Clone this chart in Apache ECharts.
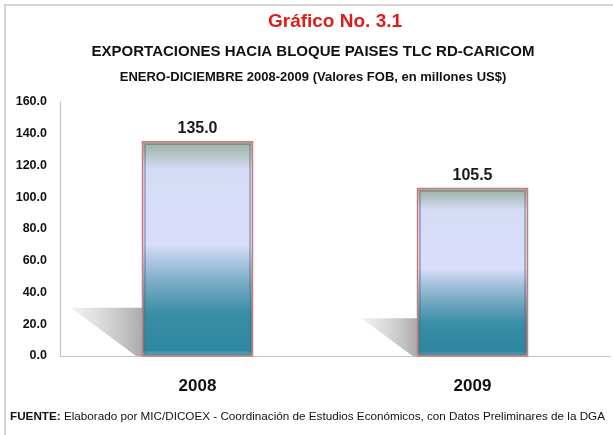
<!DOCTYPE html>
<html>
<head>
<meta charset="utf-8">
<script src="https://cdn.jsdelivr.net/npm/echarts@6/dist/echarts.min.js"></script>
<style>
  html, body { margin: 0; padding: 0; background: #fff; }
  #chart { width: 613px; height: 435px; }
</style>
</head>
<body>
<div id="chart"></div>
<script>
const years = ['2008', '2009'];
const exportValues = [135.0, 105.5];

const FONT = '"Liberation Sans", Arial, sans-serif';

const chart = echarts.init(document.getElementById('chart'));

const barFill = new echarts.graphic.LinearGradient(0, 0, 0, 1, [
    { offset: 0, color: '#9cb2a4' },
    { offset: 0.04, color: '#a9bcb6' },
    { offset: 0.13, color: '#d6dbf6' },
    { offset: 0.48, color: '#d9ddf9' },
    { offset: 0.53, color: '#bccde9' },
    { offset: 0.66, color: '#78abc5' },
    { offset: 0.8, color: '#3a8ea6' },
    { offset: 0.97, color: '#2e86a0' },
    { offset: 1, color: '#6fc2d6' }
]);

const shadowFill = new echarts.graphic.LinearGradient(1, 0, 0, 0, [
    { offset: 0, color: 'rgba(165,165,165,0.95)' },
    { offset: 1, color: 'rgba(215,215,215,0.35)' }
]);

function renderBar(params, api) {
    const top = api.coord([api.value(0), api.value(1)]);
    const base = api.coord([api.value(0), 0]);
    const w = api.size([1, 0])[0] * 0.4;
    const x0 = top[0] - w / 2;
    const h = base[1] - top[1];
    return {
        type: 'group',
        children: [
            {
                type: 'polygon',
                shape: { points: [
                    [x0 - 0.335 * h, base[1] - 0.225 * h],
                    [x0, base[1] - 0.225 * h],
                    [x0, base[1]],
                    [x0 - 0.03 * h, base[1]]
                ] },
                style: { fill: shadowFill }
            },
            {
                type: 'rect',
                shape: { x: x0, y: top[1], width: w, height: h },
                style: { fill: barFill, stroke: '#cf7b7b', lineWidth: 1.5 }
            },
            {
                type: 'rect',
                shape: { x: x0 + 2.5, y: top[1] + 2.5, width: w - 5, height: h - 4 },
                style: { fill: null, stroke: 'rgba(90,110,120,0.55)', lineWidth: 1.5 }
            },
            {
                type: 'text',
                style: {
                    x: top[0], y: top[1] - 13,
                    text: api.value(1).toFixed(1),
                    align: 'center', verticalAlign: 'middle',
                    font: 'bold 16px ' + FONT, fill: '#1a1a1a'
                }
            }
        ]
    };
}

const option = {
    backgroundColor: '#fff',
    animation: false,
    title: [
        {
            text: 'Gráfico No. 3.1',
            left: 330, top: 7, textAlign: 'center',
            textStyle: { color: '#e01b1b', fontSize: 19, fontWeight: 'bold', fontFamily: FONT }
        },
        {
            text: 'EXPORTACIONES HACIA BLOQUE PAISES TLC RD-CARICOM',
            left: 308, top: 39, textAlign: 'center',
            textStyle: { color: '#111', fontSize: 15, fontWeight: 'bold', fontFamily: FONT }
        },
        {
            text: 'ENERO-DICIEMBRE 2008-2009 (Valores FOB, en millones US$)',
            left: 308, top: 66, textAlign: 'center',
            textStyle: { color: '#111', fontSize: 13, fontWeight: 'bold', fontFamily: FONT }
        }
    ],
    graphic: [
        {
            type: 'rect',
            shape: { x: 5, y: 5, width: 640, height: 460 },
            style: { fill: null, stroke: '#c8c8c8', lineWidth: 1.5 }
        },
        {
            type: 'text',
            left: 10, top: 411,
            style: {
                text: '{b|FUENTE:} Elaborado por MIC/DICOEX - Coordinación de Estudios Económicos, con Datos Preliminares de la DGA',
                rich: {
                    b: { fontWeight: 'bold', fontSize: 11.7, fontFamily: FONT, fill: '#111' }
                },
                font: '11.7px ' + FONT,
                fill: '#111'
            }
        }
    ],
    grid: { left: 60, right: 3, top: 102, bottom: 79 },
    xAxis: {
        type: 'category',
        data: years,
        axisLine: { lineStyle: { color: '#c4c4c4', width: 1.2 } },
        axisTick: { show: false },
        axisLabel: { margin: 22, color: '#111', fontSize: 17, fontWeight: 'bold', fontFamily: FONT }
    },
    yAxis: {
        type: 'value',
        min: 0, max: 160, interval: 20,
        axisLine: { show: true, lineStyle: { color: '#c4c4c4', width: 1.2 } },
        axisTick: { show: false },
        splitLine: { show: false },
        axisLabel: {
            margin: 13, color: '#111', fontSize: 12.5, fontWeight: 'bold', fontFamily: FONT,
            formatter: v => v.toFixed(1)
        }
    },
    series: [{
        type: 'custom',
        renderItem: renderBar,
        data: years.map((y, i) => [i, exportValues[i]]),
        encode: { x: 0, y: 1 }
    }]
};

chart.setOption(option);
</script>
</body>
</html>
